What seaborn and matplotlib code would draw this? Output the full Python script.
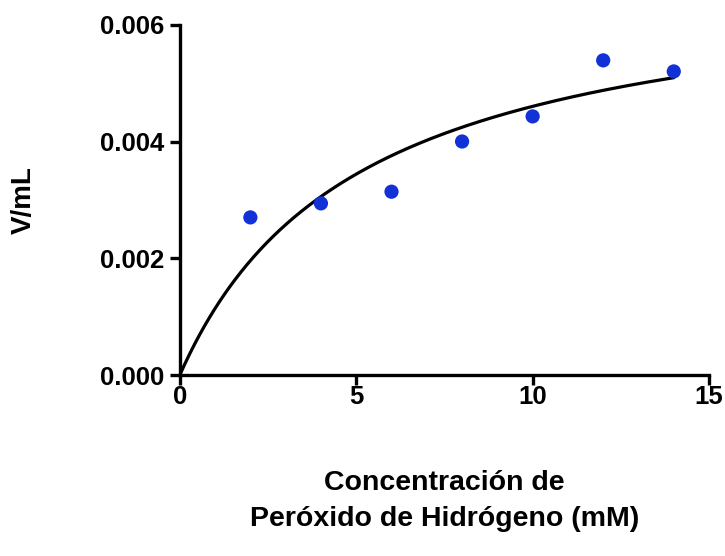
import numpy as np
import pandas as pd
import matplotlib
matplotlib.use("Agg")
import matplotlib.pyplot as plt
import seaborn as sns

# Data
concentracion = [2, 4, 6, 8, 10, 12, 14]
velocidad = [0.00270, 0.00294, 0.00314, 0.00400, 0.00443, 0.00539, 0.00520]

x_ticks = [0, 5, 10, 15]
y_ticks = [0.000, 0.002, 0.004, 0.006]

# Michaelis-Menten least-squares fit (grid over Km, closed form Vmax)
xd = np.array(concentracion, dtype=float)
yd = np.array(velocidad)
best = None
for km in np.linspace(0.1, 30, 6000):
    g = xd / (km + xd)
    vmax = np.dot(g, yd) / np.dot(g, g)
    sse = np.sum((yd - vmax * g) ** 2)
    if best is None or sse < best[0]:
        best = (sse, km, vmax)
_, km, vmax = best

x_fit = np.linspace(0, 14, 300)
fit_df = pd.DataFrame({"x": x_fit, "y": vmax * x_fit / (km + x_fit)})
pts_df = pd.DataFrame({"x": concentracion, "y": velocidad})

sns.set_theme(style="ticks")
plt.rcParams["font.family"] = ["Liberation Sans", "DejaVu Sans"]
plt.rcParams["font.weight"] = "bold"
plt.rcParams["text.color"] = "black"
plt.rcParams["axes.labelcolor"] = "black"
plt.rcParams["xtick.color"] = "black"
plt.rcParams["ytick.color"] = "black"

fig = plt.figure(figsize=(7.25, 5.56), dpi=100)
ax = fig.add_axes([0.248, 0.3255, 0.73, 0.63])

sns.lineplot(data=fit_df, x="x", y="y", color="black", linewidth=2.3, ax=ax)
sns.scatterplot(data=pts_df, x="x", y="y", color="#1232d8", s=105,
                edgecolor="none", ax=ax, zorder=3)

ax.set_xlim(0, 15)
ax.set_ylim(0, 0.006)
ax.set_xticks(x_ticks)
ax.set_yticks(y_ticks)
ax.set_xticklabels([str(t) for t in x_ticks])
ax.set_yticklabels([f"{t:.3f}" for t in y_ticks])

sns.despine(ax=ax)
for side in ["left", "bottom"]:
    ax.spines[side].set_linewidth(2.4)
    ax.spines[side].set_color("black")
    ax.spines[side].set_zorder(4)
ax.tick_params(axis="both", direction="out", length=7, width=2.4,
               colors="black", labelsize=18.5)
ax.tick_params(axis="x", pad=0)
ax.tick_params(axis="y", pad=4)
for lab in ax.get_xticklabels() + ax.get_yticklabels():
    lab.set_fontweight("bold")

ax.set_xlabel("Concentración de\nPeróxido de Hidrógeno (mM)", fontsize=20.5,
              fontweight="bold", labelpad=44, linespacing=1.5)
ax.set_ylabel("V/mL", fontsize=20, fontweight="bold", labelpad=46)

fig.savefig("out.png", dpi=100)
